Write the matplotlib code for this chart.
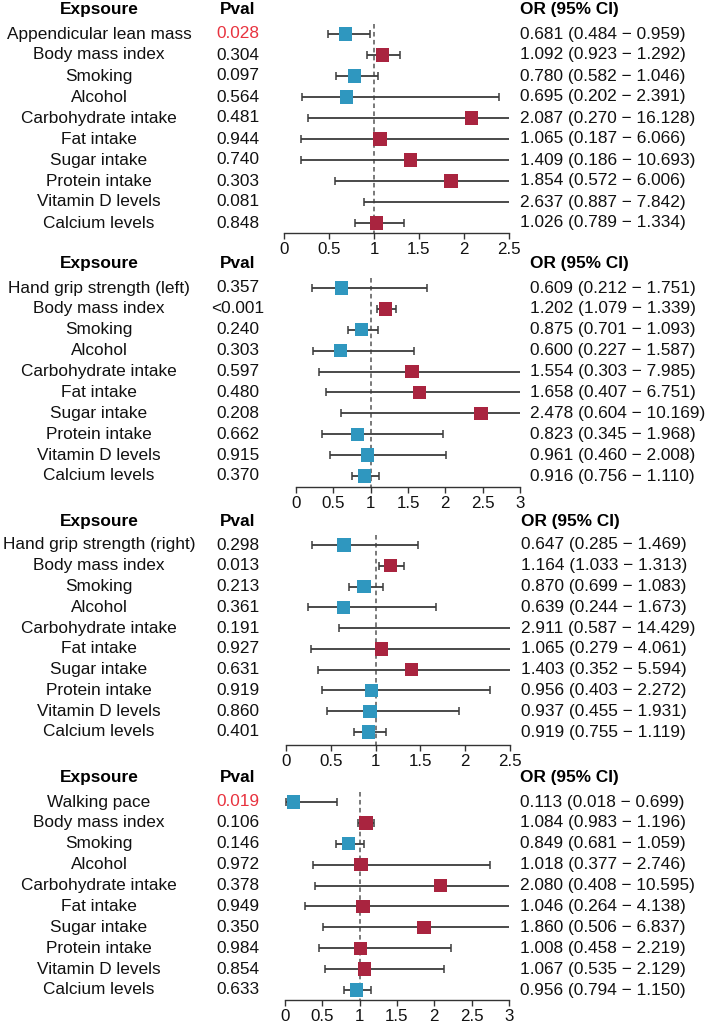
import matplotlib
matplotlib.use("Agg")
import matplotlib.pyplot as plt
import matplotlib.transforms as mtransforms

plt.rcParams["font.family"] = ["Liberation Sans", "DejaVu Sans"]

# panel 1: appendicular lean mass
p1_exposure = ["Appendicular lean mass", "Body mass index", "Smoking", "Alcohol",
               "Carbohydrate intake", "Fat intake", "Sugar intake", "Protein intake",
               "Vitamin D levels", "Calcium levels"]
p1_pval = ["0.028", "0.304", "0.097", "0.564", "0.481", "0.944", "0.740", "0.303", "0.081", "0.848"]
p1_or = [0.681, 1.092, 0.780, 0.695, 2.087, 1.065, 1.409, 1.854, 2.637, 1.026]
p1_lo = [0.484, 0.923, 0.582, 0.202, 0.270, 0.187, 0.186, 0.572, 0.887, 0.789]
p1_hi = [0.959, 1.292, 1.046, 2.391, 16.128, 6.066, 10.693, 6.006, 7.842, 1.334]
p1_ticks = [0, 0.5, 1, 1.5, 2, 2.5]

# panel 2: hand grip strength (left)
p2_exposure = ["Hand grip strength (left)", "Body mass index", "Smoking", "Alcohol",
               "Carbohydrate intake", "Fat intake", "Sugar intake", "Protein intake",
               "Vitamin D levels", "Calcium levels"]
p2_pval = ["0.357", "<0.001", "0.240", "0.303", "0.597", "0.480", "0.208", "0.662", "0.915", "0.370"]
p2_or = [0.609, 1.202, 0.875, 0.600, 1.554, 1.658, 2.478, 0.823, 0.961, 0.916]
p2_lo = [0.212, 1.079, 0.701, 0.227, 0.303, 0.407, 0.604, 0.345, 0.460, 0.756]
p2_hi = [1.751, 1.339, 1.093, 1.587, 7.985, 6.751, 10.169, 1.968, 2.008, 1.110]
p2_ticks = [0, 0.5, 1, 1.5, 2, 2.5, 3]

# panel 3: hand grip strength (right)
p3_exposure = ["Hand grip strength (right)", "Body mass index", "Smoking", "Alcohol",
               "Carbohydrate intake", "Fat intake", "Sugar intake", "Protein intake",
               "Vitamin D levels", "Calcium levels"]
p3_pval = ["0.298", "0.013", "0.213", "0.361", "0.191", "0.927", "0.631", "0.919", "0.860", "0.401"]
p3_or = [0.647, 1.164, 0.870, 0.639, 2.911, 1.065, 1.403, 0.956, 0.937, 0.919]
p3_lo = [0.285, 1.033, 0.699, 0.244, 0.587, 0.279, 0.352, 0.403, 0.455, 0.755]
p3_hi = [1.469, 1.313, 1.083, 1.673, 14.429, 4.061, 5.594, 2.272, 1.931, 1.119]
p3_ticks = [0, 0.5, 1, 1.5, 2, 2.5]

# panel 4: walking pace
p4_exposure = ["Walking pace", "Body mass index", "Smoking", "Alcohol",
               "Carbohydrate intake", "Fat intake", "Sugar intake", "Protein intake",
               "Vitamin D levels", "Calcium levels"]
p4_pval = ["0.019", "0.106", "0.146", "0.972", "0.378", "0.949", "0.350", "0.984", "0.854", "0.633"]
p4_or = [0.113, 1.084, 0.849, 1.018, 2.080, 1.046, 1.860, 1.008, 1.067, 0.956]
p4_lo = [0.018, 0.983, 0.681, 0.377, 0.408, 0.264, 0.506, 0.458, 0.535, 0.794]
p4_hi = [0.699, 1.196, 1.059, 2.746, 10.595, 4.138, 6.837, 2.219, 2.129, 1.150]
p4_ticks = [0, 0.5, 1, 1.5, 2, 2.5, 3]

W, H = 709, 1023
BLUE = "#2f97bf"
RED = "#a9243f"
PRED = "#e8333f"
FS = 12.4

# pixel layout: axis left/right, first row, last row, axis line, OR column x
layout = [
    (284, 509, 34, 223, 233, 520),
    (296, 520, 288, 476, 487, 530),
    (286, 510, 545, 732, 745, 521),
    (285, 509, 802, 990, 1000, 520),
]

panels = [
    (p1_exposure, p1_pval, p1_or, p1_lo, p1_hi, p1_ticks),
    (p2_exposure, p2_pval, p2_or, p2_lo, p2_hi, p2_ticks),
    (p3_exposure, p3_pval, p3_or, p3_lo, p3_hi, p3_ticks),
    (p4_exposure, p4_pval, p4_or, p4_lo, p4_hi, p4_ticks),
]

fig = plt.figure(figsize=(W / 100, H / 100), dpi=100)

for (expo, pval, orv, lo, hi, ticks), (xl, xr, ytop, ylast, yaxis, xor) in zip(panels, layout):
    n = len(expo)
    step = (ylast - ytop) / (n - 1)
    top_pad = 0.6
    bottom = (n - 1) + (yaxis - ylast) / step
    ax_top = ytop - top_pad * step
    ax = fig.add_axes([xl / W, 1 - yaxis / H, (xr - xl) / W, (yaxis - ax_top) / H])
    ax.set_xlim(ticks[0], ticks[-1])
    ax.set_ylim(bottom, -top_pad)

    rows = list(range(n))
    # reference line at OR = 1
    ax.vlines(1, -0.5, bottom, colors="#555555", linestyles=(0, (3, 2.2)), linewidth=1.1, zorder=1)
    xerr = [[o - l for o, l in zip(orv, lo)], [h - o for o, h in zip(orv, hi)]]
    ax.errorbar(orv, rows, xerr=xerr, fmt="none", ecolor="#3c3c3c", elinewidth=1.3,
                capsize=2.6, capthick=1.1, zorder=2)
    colors = [BLUE if o < 1 else RED for o in orv]
    ax.scatter(orv, rows, marker="s", s=92, c=colors, edgecolors="none", zorder=3)

    for s in ["left", "top", "right"]:
        ax.spines[s].set_visible(False)
    ax.spines["bottom"].set_color("#333333")
    ax.spines["bottom"].set_linewidth(1.0)
    ax.set_yticks([])
    ax.set_xticks(ticks)
    ax.set_xticklabels([f"{t:g}" for t in ticks])
    ax.tick_params(axis="x", direction="out", length=4.5, width=1.0, color="#333333",
                   labelsize=12.2, pad=2, labelcolor="#111111")
    ax.patch.set_visible(False)

    # text columns: x in figure fraction, y in row units
    trans = mtransforms.blended_transform_factory(fig.transFigure, ax.transData)
    hy = -1.15
    ax.text(99 / W, hy, "Expsoure", transform=trans, ha="center", va="center",
            fontsize=FS, fontweight="bold", clip_on=False)
    ax.text(238 / W, hy, "Pval", transform=trans, ha="center", va="center",
            fontsize=FS, fontweight="bold", clip_on=False)
    ax.text(xor / W, hy, "OR (95% CI)", transform=trans, ha="left", va="center",
            fontsize=FS, fontweight="bold", clip_on=False)
    for i in rows:
        ax.text(99 / W, i, expo[i], transform=trans, ha="center", va="center",
                fontsize=FS, color="#111111", clip_on=False)
        pc = PRED if (i == 0 and float(pval[i].lstrip("<")) < 0.05) else "#111111"
        ax.text(238 / W, i, pval[i], transform=trans, ha="center", va="center",
                fontsize=FS, color=pc, clip_on=False)
        ax.text(xor / W, i, f"{orv[i]:.3f} ({lo[i]:.3f} \u2212 {hi[i]:.3f})", transform=trans,
                ha="left", va="center", fontsize=FS, color="#111111", clip_on=False)

fig.savefig("out.png", dpi=100)
